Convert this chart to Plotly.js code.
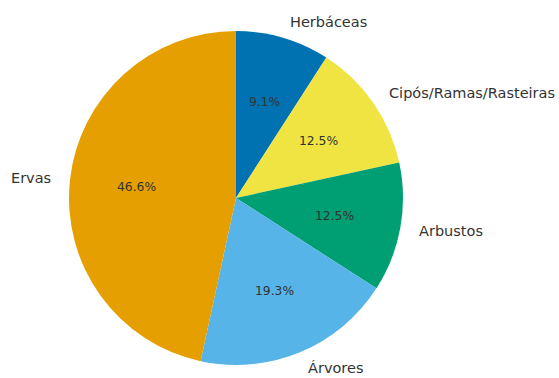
<!DOCTYPE html>
<html>
<head>
<meta charset="utf-8">
<script src="https://cdn.plot.ly/plotly-3.0.1.min.js"></script>
<style>html,body{margin:0;padding:0;background:#fff;}</style>
</head>
<body>
<div id="chart" style="width:559px;height:378px;"></div>
<script>
const categories = ["Herbáceas", "Cipós/Ramas/Rasteiras", "Arbustos", "Árvores", "Ervas"];
const values = [9.1, 12.5, 12.5, 19.3, 46.6];
const colors = ["#0072B2", "#F0E442", "#009E73", "#56B4E9", "#E69F00"];

const W = 559, H = 378;
const cxPx = 236, cyPx = 198, rPx = 167;
const domX = [(cxPx - rPx) / W, (cxPx + rPx) / W];
const domY = [(H - (cyPx + rPx)) / H, (H - (cyPx - rPx)) / H];

const total = values.reduce((a, b) => a + b, 0);
const annotations = [];
let cum = 0;
values.forEach((v, i) => {
  const mid = (cum + v / 2) / total * 2 * Math.PI;
  cum += v;
  const sx = Math.sin(mid), cy = Math.cos(mid);
  // outer label at 1.1 radius
  const lx = cxPx + 1.1 * rPx * sx, ly = cyPx - 1.1 * rPx * cy;
  annotations.push({
    x: lx / W, y: (H - ly) / H, xref: "paper", yref: "paper",
    text: categories[i], showarrow: false,
    xanchor: sx > 0 ? "left" : "right", yanchor: "middle",
    font: {family: "DejaVu Sans", size: 14.5, color: "#333333"}
  });
  // percent at 0.6 radius
  const px = cxPx + 0.6 * rPx * sx, py = cyPx - 0.6 * rPx * cy;
  annotations.push({
    x: px / W, y: (H - py) / H, xref: "paper", yref: "paper",
    text: (v / total * 100).toFixed(1) + "%", showarrow: false,
    xanchor: "center", yanchor: "middle",
    font: {family: "DejaVu Sans", size: 12.3, color: "#333333"}
  });
});

const data = [{
  type: "pie",
  labels: categories,
  values: values,
  marker: {colors: colors, line: {width: 0}},
  sort: false,
  direction: "clockwise",
  rotation: 0,
  textinfo: "none",
  hoverinfo: "none",
  showlegend: false,
  domain: {x: domX, y: domY}
}];

const layout = {
  width: W, height: H,
  margin: {l: 0, r: 0, t: 0, b: 0},
  paper_bgcolor: "#ffffff",
  plot_bgcolor: "#ffffff",
  showlegend: false,
  annotations: annotations
};

Plotly.newPlot("chart", data, layout, {displayModeBar: false, staticPlot: true});
</script>
</body>
</html>
